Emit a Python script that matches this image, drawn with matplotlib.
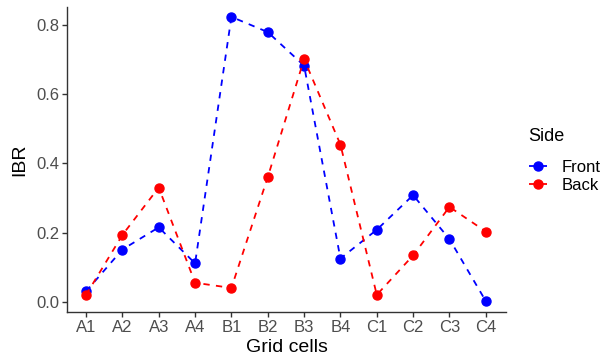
import matplotlib
matplotlib.use('Agg')
import matplotlib.pyplot as plt

cells = ['A1', 'A2', 'A3', 'A4', 'B1', 'B2', 'B3', 'B4', 'C1', 'C2', 'C3', 'C4']
front = [0.030, 0.151, 0.215, 0.111, 0.823, 0.779, 0.682, 0.125, 0.208, 0.308, 0.181, 0.002]
back = [0.020, 0.193, 0.330, 0.055, 0.040, 0.360, 0.701, 0.454, 0.020, 0.134, 0.274, 0.203]

plt.rcParams['font.family'] = ['Liberation Sans', 'DejaVu Sans']

fig = plt.figure(figsize=(6.05, 3.58), dpi=100)
ax = fig.add_axes([0.111, 0.128, 0.725, 0.852])

x = list(range(len(cells)))
for vals, col, lab in [(front, '#0000FF', 'Front'), (back, '#FF0000', 'Back')]:
    ax.plot(x, vals, color=col, ls=(0, (3.5, 3.5)), lw=1.3,
            marker='o', ms=6.5, label=lab)

ax.set_xticks(x)
ax.set_xticklabels(cells)
ax.set_yticks([0.0, 0.2, 0.4, 0.6, 0.8])
ax.set_yticklabels(['0.0', '0.2', '0.4', '0.6', '0.8'])
ax.set_xlim(-0.52, 11.55)
ax.set_ylim(-0.030, 0.851)

for s in ['top', 'right']:
    ax.spines[s].set_visible(False)
for s in ['left', 'bottom']:
    ax.spines[s].set_color('#333333')
    ax.spines[s].set_linewidth(1.0)
ax.tick_params(axis='both', colors='#333333', length=3.5, width=1.0,
               labelsize=12, labelcolor='#4D4D4D', pad=2)

ax.set_xlabel('Grid cells', fontsize=14, labelpad=3)
ax.set_ylabel('IBR', fontsize=14, labelpad=6)

leg = fig.legend(*ax.get_legend_handles_labels(), title='Side',
                 loc='upper left', bbox_to_anchor=(0.849, 0.685),
                 frameon=False, fontsize=12, title_fontsize=13,
                 handlelength=1.1, handletextpad=0.9, labelspacing=0.15,
                 borderpad=0.4)
leg._legend_box.align = 'left'
leg._legend_box.sep = 11

fig.savefig('out.png', dpi=100)
